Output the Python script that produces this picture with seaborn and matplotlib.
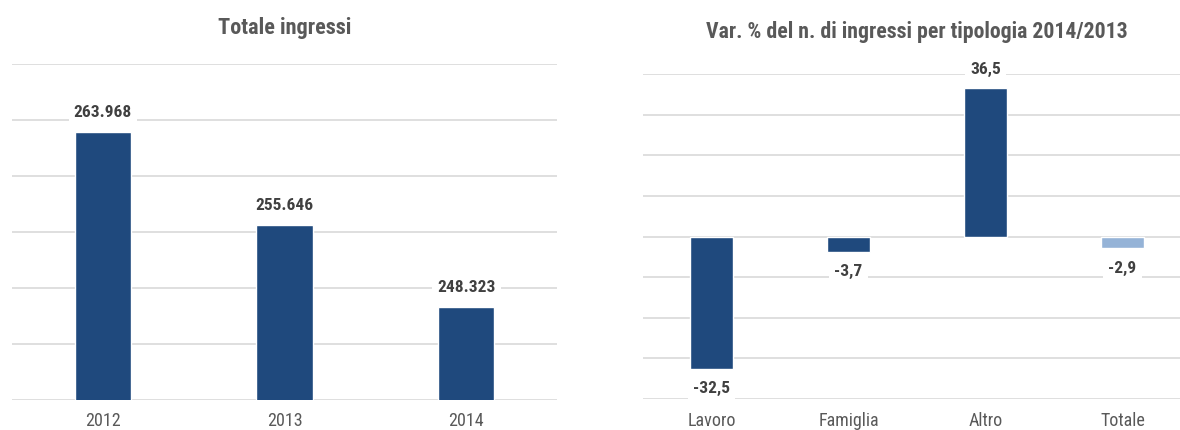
import matplotlib
matplotlib.use("Agg")
import matplotlib.pyplot as plt
import seaborn as sns
import pandas as pd

# Data
years = ["2012", "2013", "2014"]
ingressi = [263968, 255646, 248323]

tipologie = ["Lavoro", "Famiglia", "Altro", "Totale"]
var_pct = [-32.5, -3.7, 36.5, -2.9]

left_title = "Totale ingressi"
right_title = "Var. % del n. di ingressi per tipologia 2014/2013"

DARK = "#1F497D"
LIGHT = "#95B3D7"
GRID = "#D9D9D9"
TXT = "#595959"
LBL = "#404040"

sns.set_theme(style="white")
FONT = ["Liberation Sans Narrow", "Roboto Condensed", "Roboto", "Liberation Sans", "DejaVu Sans"]
plt.rcParams["font.family"] = FONT

fig = plt.figure(figsize=(11.8, 4.3), dpi=100)
axL = fig.add_axes([12 / 1180, 1 - 400 / 430, 545 / 1180, (400 - 64) / 430])
axR = fig.add_axes([643 / 1180, 1 - 399 / 430, 548 / 1180, (399 - 74) / 430])

dfL = pd.DataFrame({"anno": years, "n": ingressi})
dfR = pd.DataFrame({"tipo": tipologie, "v": var_pct})

sns.barplot(data=dfL, x="anno", y="n", color=DARK, width=0.31, ax=axL,
            saturation=1, zorder=3)
sns.barplot(data=dfR, x="tipo", y="v", hue="tipo",
            palette=[DARK, DARK, DARK, LIGHT], width=0.31, ax=axR,
            saturation=1, legend=False, zorder=3)

def it_thousands(v):
    return f"{v:,}".replace(",", ".")

def it_dec(v):
    return f"{v:.1f}".replace(".", ",")

bbox = dict(boxstyle="square,pad=0.3", fc="white", ec="none")

for ax in (axL, axR):
    for s in ax.spines.values():
        s.set_visible(False)
    ax.set_xlabel("")
    ax.set_ylabel("")
    ax.set_yticklabels([])
    ax.tick_params(axis="both", length=0)
    ax.tick_params(axis="x", pad=9, labelsize=13, labelcolor=TXT)
    ax.grid(axis="y", color=GRID, linewidth=1.2, zorder=0)
    ax.set_axisbelow(True)

axL.set_ylim(240000, 270000)
axL.set_yticks(range(240000, 270001, 5000))
axL.set_xlim(-0.5, 2.5)
axR.set_ylim(-40, 40)
axR.set_yticks(range(-40, 41, 10))
axR.set_xlim(-0.5, 3.5)

for i, v in enumerate(ingressi):
    axL.annotate(it_thousands(v), (i, v), xytext=(0, 14), textcoords="offset points",
                 ha="center", va="center", fontsize=12.5, fontweight="bold",
                 color=LBL, bbox=bbox, zorder=5)

for i, v in enumerate(var_pct):
    off = 13.5 if v >= 0 else -14.5
    axR.annotate(it_dec(v), (i, v), xytext=(0, off), textcoords="offset points",
                 ha="center", va="center", fontsize=12.5, fontweight="bold",
                 color=LBL, bbox=bbox, zorder=5)

fig.text((12 + 545 / 2) / 1180, 1 - 28 / 430, left_title, ha="center", va="center",
         fontsize=16, fontweight="bold", color=TXT)
fig.text((643 + 548 / 2) / 1180, 1 - 32 / 430, right_title, ha="center", va="center",
         fontsize=15.7, fontweight="bold", color=TXT)

fig.savefig("out.png", dpi=100)
